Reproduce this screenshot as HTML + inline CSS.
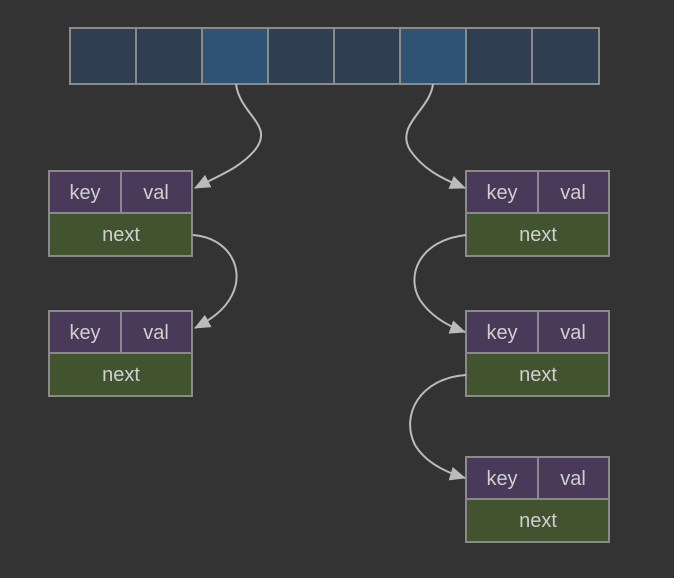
<!DOCTYPE html>
<html><head><style>
body{margin:0;background:#333333;}
svg{display:block}
text{font-family:"Liberation Sans",sans-serif;font-size:20px;fill:#cfcfcf;text-anchor:middle;dominant-baseline:central}
</style></head><body>
<svg width="674" height="578" viewBox="0 0 674 578">
<rect width="674" height="578" fill="#333333"/>
<defs><marker id="a" markerWidth="16" markerHeight="14" refX="15" refY="7" orient="auto" markerUnits="userSpaceOnUse" viewBox="0 0 16 14"><path d="M0,0 L16,7 L0,14 z" fill="#bbbbbb"/></marker>
<g id="n">
<rect x="0" y="0" width="72" height="42" fill="#483a58" stroke="#8a8a8a" stroke-width="2"/>
<rect x="72" y="0" width="71" height="42" fill="#483a58" stroke="#8a8a8a" stroke-width="2"/>
<rect x="0" y="42" width="143" height="43" fill="#41532f" stroke="#8a8a8a" stroke-width="2"/>
<text x="36" y="22">key</text><text x="107" y="22">val</text><text x="72" y="64">next</text>
</g></defs>
<g stroke="#8a8a8a" stroke-width="2">
<rect x="70" y="28" width="66" height="56" fill="#2f3f51"/>
<rect x="136" y="28" width="66" height="56" fill="#2f3f51"/>
<rect x="202" y="28" width="66" height="56" fill="#2e5373"/>
<rect x="268" y="28" width="66" height="56" fill="#2f3f51"/>
<rect x="334" y="28" width="66" height="56" fill="#2f3f51"/>
<rect x="400" y="28" width="66" height="56" fill="#2e5373"/>
<rect x="466" y="28" width="66" height="56" fill="#2f3f51"/>
<rect x="532" y="28" width="67" height="56" fill="#2f3f51"/>
</g>
<use href="#n" x="49" y="171"/>
<use href="#n" x="49" y="311"/>
<use href="#n" x="466" y="171"/>
<use href="#n" x="466" y="311"/>
<use href="#n" x="466" y="457"/>
<g fill="none" stroke="#bbbbbb" stroke-width="2" marker-end="url(#a)">
<path d="M236,84 C240,115 275,125 255,150 C240,168 220,175 195,188"/>
<path d="M433,84 C430,110 395,125 410,150 C422,168 440,178 465,188"/>
<path d="M193,235 C230,238 245,270 232,295 C225,310 210,320 195,328"/>
<path d="M466,235 C420,240 405,275 420,300 C430,315 445,325 465,332"/>
<path d="M466,375 C420,378 400,415 415,445 C425,462 445,472 465,478"/>
</g>
</svg>
</body></html>
